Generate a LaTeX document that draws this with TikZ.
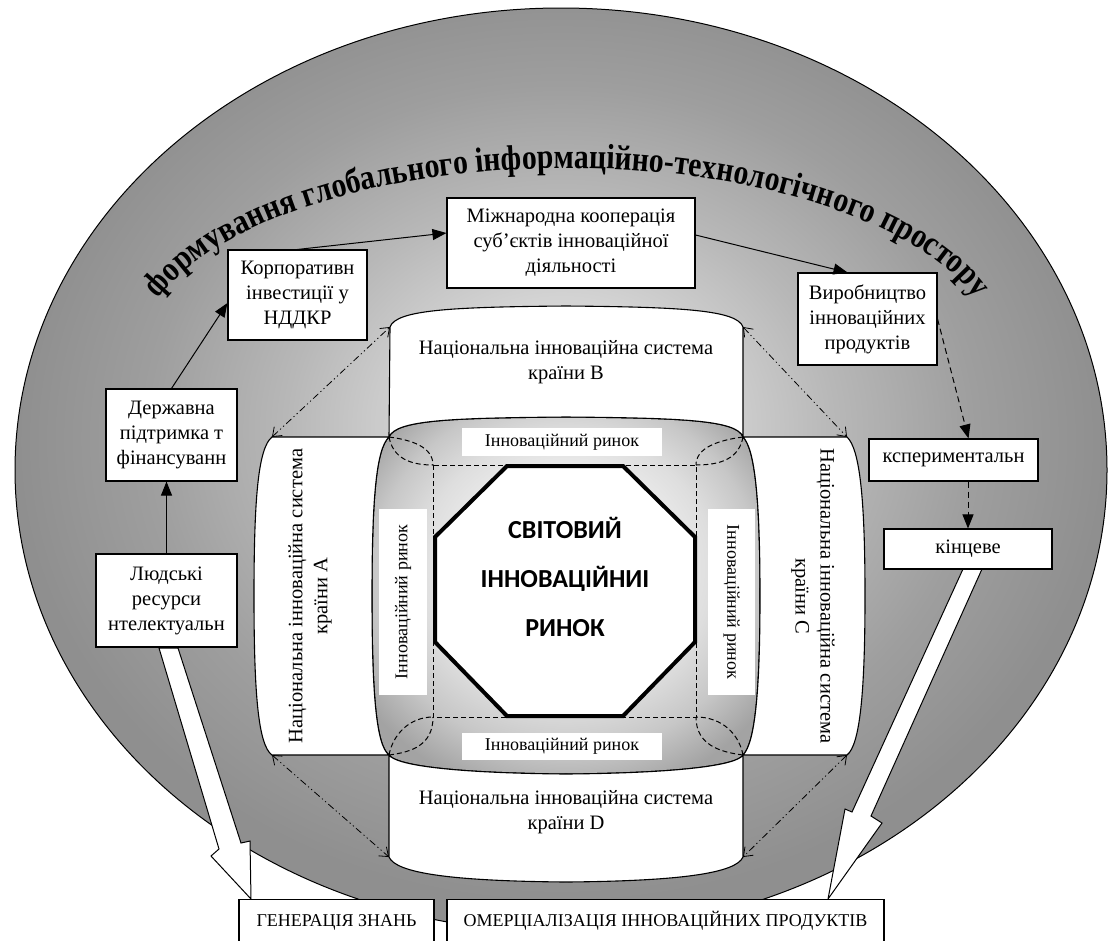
\documentclass[tikz,border=0pt]{standalone}
\usepackage{fontspec}
\setmainfont{Liberation Serif}
\newfontfamily\calib{Carlito}
\newfontfamily\titlefont[FakeStretch=0.85]{Liberation Serif}
\usetikzlibrary{arrows.meta,decorations.text,calc}
\definecolor{ga}{gray}{0.95}
\definecolor{gb}{gray}{0.86}
\definecolor{gc}{gray}{0.72}
\definecolor{gd}{gray}{0.62}
\definecolor{ge}{gray}{0.56}
\definecolor{gf}{gray}{0.95}
\definecolor{gg}{gray}{0.87}
\definecolor{gh}{gray}{0.78}
\definecolor{gi}{gray}{0.64}
\pgfdeclareradialshading{ellshade}{\pgfpoint{0bp}{3bp}}{color(0bp)=(ga); color(5bp)=(gb); color(12.5bp)=(gc); color(19bp)=(gd); color(25bp)=(ge); color(50bp)=(ge)}
\pgfdeclareradialshading{cushshade}{\pgfpoint{0bp}{6bp}}{color(0bp)=(white); color(10bp)=(gf); color(19bp)=(gg); color(25bp)=(gh); color(31bp)=(gi); color(50bp)=(gi)}
\tikzset{
  box/.style={draw=black, line width=1.1pt, fill=white, font=\fontsize{20.5}{25}\selectfont, align=center, inner sep=0pt},
  lab/.style={fill=white, inner sep=0pt, font=\fontsize{18}{21}\selectfont},
  cyltext/.style={font=\fontsize{20.5}{25}\selectfont, align=center},
  cyl/.style={draw=black, line width=1.1pt, fill=white},
  arr/.style={line width=1pt, -{Triangle[length=14pt,width=11pt]}},
  darr/.style={arr, dash pattern=on 6pt off 4pt},
  ddarr/.style={line width=0.8pt, {Straight Barb[length=8pt,width=12pt]}-{Straight Barb[length=8pt,width=12pt]}, dash pattern=on 7pt off 3pt on 1.2pt off 3pt on 1.2pt off 3pt},
  dsh/.style={line width=1pt, dash pattern=on 5pt off 3pt},
  bigarr/.style={draw=black, line width=1pt, fill=white},
}
\begin{document}
\begin{tikzpicture}[x=1pt,y=-1pt]
\useasboundingbox (0,0) rectangle (1115,940);
\clip (0,0) rectangle (1115,940);
\fill[white] (0,0) rectangle (1115,940);
% outer ellipse
\shadedraw[shading=ellshade, draw=black, line width=1pt] (561,470) ellipse [x radius=546, y radius=462];
% big arrows
\draw[bigarr] (159,648) -- (219,849) -- (211,856) -- (251,899) -- (250,841) -- (241,843) -- (178,648) -- cycle;
\draw[bigarr] (963,569) -- (852,812) -- (845,809) -- (828,899) -- (882,823) -- (871,816) -- (982,569) -- cycle;
% cushion
\shadedraw[shading=cushshade, draw=black, line width=1.1pt]
  (389,437) .. controls (396,420) and (450,418) .. (566,417)
  .. controls (682,418) and (737,420) .. (743,437)
  .. controls (755,449) and (760,500) .. (760,596)
  .. controls (760,692) and (755,743) .. (743,755)
  .. controls (737,765) and (682,773) .. (566,774)
  .. controls (450,773) and (396,765) .. (389,755)
  .. controls (376,745) and (372,692) .. (372,596)
  .. controls (372,500) and (376,449) .. (389,437) -- cycle;
% cylinders
\draw[cyl] (390,327) .. controls (396,310) and (450,307) .. (566,306)
  .. controls (682,307) and (737,310) .. (743,327) -- (743,437)
  .. controls (737,420) and (682,418) .. (566,417)
  .. controls (450,418) and (396,420) .. (389,437) -- cycle;
\draw[cyl] (389,755) .. controls (396,765) and (450,773) .. (566,774)
  .. controls (682,773) and (737,765) .. (743,755) -- (743,857)
  .. controls (736,873) and (682,881) .. (566,882)
  .. controls (450,881) and (396,873) .. (389,857) -- cycle;
\draw[cyl] (272,437) -- (389,437)
  .. controls (376,449) and (372,500) .. (372,596)
  .. controls (372,692) and (376,745) .. (389,755) -- (272,755)
  .. controls (258,745) and (254,692) .. (254,596)
  .. controls (254,500) and (258,448) .. (272,437) -- cycle;
\draw[cyl] (743,437) -- (847,437)
  .. controls (860,449) and (865,500) .. (865,596)
  .. controls (865,692) and (860,745) .. (847,755) -- (743,755)
  .. controls (755,743) and (760,692) .. (760,596)
  .. controls (760,500) and (755,449) .. (743,437) -- cycle;
% corner coordinates
\coordinate (Btl) at (390,327);
\coordinate (Btr) at (743,327);
\coordinate (Atl) at (272,437);
\coordinate (Abl) at (272,755);
\coordinate (Ctr) at (847,437);
\coordinate (Cbr) at (847,755);
\coordinate (Dbl) at (389,857);
\coordinate (Dbr) at (743,857);
% dashed frame and lenses
\draw[dsh] (433,465) rectangle (696,717);
\draw[dsh] (389,437) .. controls (393,458) and (410,465) .. (433,465);
\draw[dsh] (389,437) .. controls (412,440) and (433,447) .. (433,465);
\draw[dsh] (743,437) .. controls (739,458) and (722,465) .. (696,465);
\draw[dsh] (743,437) .. controls (720,440) and (696,447) .. (696,465);
\draw[dsh] (389,755) .. controls (393,734) and (410,717) .. (433,717);
\draw[dsh] (389,755) .. controls (412,752) and (433,745) .. (433,717);
\draw[dsh] (743,755) .. controls (739,734) and (722,717) .. (696,717);
\draw[dsh] (743,755) .. controls (720,752) and (696,745) .. (696,717);
% inner labels
\node[lab, minimum width=200, minimum height=28] (l1) at (562,442) {Інноваційний ринок};
\node[lab, minimum width=200, minimum height=27] (l4) at (562,746) {Інноваційний ринок};
\node[lab, minimum width=186, minimum height=48, rotate=90] (l2) at (403,602) {Інноваційний ринок};
\node[lab, minimum width=186, minimum height=47, rotate=-90] (l3) at (731.5,602) {Інноваційний ринок};
% octagon
\draw[line width=4pt, fill=white, line join=miter] (507,466) -- (623,466) -- (695,537) -- (695,642) -- (623,716) -- (507,716) -- (435,642) -- (435,537) -- cycle;
\node[font=\calib\bfseries\fontsize{26}{49}\selectfont, align=center] (world) at (565,577) {СВІТОВИЙ\\ІННОВАЦІЙНИІ\\РИНОК};
% cylinder texts
\node[cyltext] (tB) at (566,362) {Національна інноваційна система\\країни B};
\node[cyltext] (tD) at (566,812) {Національна інноваційна система\\країни D};
\node[cyltext, rotate=90] (tA) at (310,596) {Національна інноваційна система\\країни А};
\node[cyltext, rotate=-90] (tC) at (813,596) {Національна інноваційна система\\країни С};
% boxes
\node[box, minimum width=139, minimum height=90] (korp) at (297.5,295) {Корпоративн\\інвестиції у\\НДДКР};
\node[box, minimum width=248, minimum height=90] (mizh) at (571,243) {Міжнародна кооперація\\суб’єктів інноваційної\\діяльності};
\node[box, minimum width=139, minimum height=92] (vyr) at (867.5,319) {Виробництво\\інноваційних\\продуктів};
\node[box, minimum width=131, minimum height=92] (derz) at (171.5,435) {Державна\\підтримка т\\фінансуванн};
\node[box, minimum width=141, minimum height=93] (lud) at (166.5,600.5) {Людські\\ресурси\\нтелектуальн};
\node[box, minimum width=169, minimum height=42] (ksp) at (953.5,460) {кспериментальн};
\node[box, minimum width=168, minimum height=40] (kin) at (968,549) {кінцеве};
\node[box, anchor=north, minimum width=195, text height=13pt, text depth=40pt, inner ysep=14pt, font=\fontsize{18}{21}\selectfont] (gen) at (336.5,899) {ГЕНЕРАЦІЯ ЗНАНЬ};
\node[box, anchor=north, minimum width=437, text height=13pt, text depth=40pt, inner ysep=14pt, font=\fontsize{18}{21}\selectfont] (kom) at (665.5,899) {ОМЕРЦІАЛІЗАЦІЯ ІННОВАЦІЙНИХ ПРОДУКТІВ};
% arrows
\draw[arr] (lud.north) -- (lud.north |- derz.south);
\draw[arr] (derz.north) -- ($(korp.west)+(0,8)$);
\draw[arr] (korp.north) -- ($(mizh.west)+(0,-10)$);
\draw[arr] ($(mizh.east)+(0,-8)$) -- ($(vyr.north)+(-20,0)$);
\draw[darr] (vyr.east) -- ($(ksp.north)+(15,0)$);
\draw[darr] (kin.north |- ksp.south) -- (kin.north);
% dash-dot double arrows
\draw[ddarr] (Atl) -- (Btl);
\draw[ddarr] (Btr) -- (Ctr);
\draw[ddarr] (Abl) -- (Dbl);
\draw[ddarr] (Cbr) -- (Dbr);
% title along arc
\path[decorate, decoration={text along path, text align=center,
  text={|\titlefont\bfseries\fontsize{35}{35}\selectfont|формування глобального інформаційно-технологічного простору}}]
  plot[domain=194:346, samples=90] ({567+432*cos(\x)},{360+192*sin(\x)});
\end{tikzpicture}
\end{document}
